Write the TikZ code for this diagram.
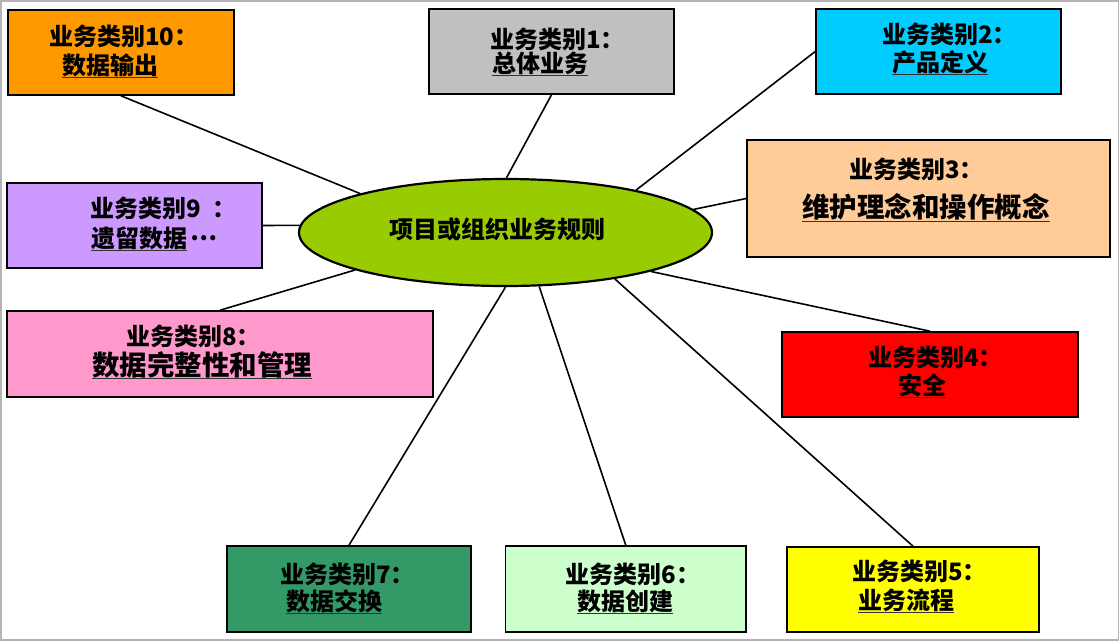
\documentclass[tikz,border=0pt]{standalone}
\usepackage{fontspec}
\usetikzlibrary{shapes.geometric}
\setmainfont{Noto Sans CJK SC}
\definecolor{cOrange}{HTML}{FF9900}
\definecolor{cGray}{HTML}{C0C0C0}
\definecolor{cCyan}{HTML}{00CCFF}
\definecolor{cPeach}{HTML}{FFCC99}
\definecolor{cLav}{HTML}{CC99FF}
\definecolor{cPink}{HTML}{FF99CC}
\definecolor{cRed}{HTML}{FF0000}
\definecolor{cDkGreen}{HTML}{339966}
\definecolor{cLtGreen}{HTML}{CCFFCC}
\definecolor{cYellow}{HTML}{FFFF00}
\definecolor{cLime}{HTML}{99CC00}
\definecolor{cFrame}{HTML}{B4B4B4}
\newcommand\myul[1]{\setbox0\hbox{#1}\rlap{\color{black!80}\rule[-4.4pt]{\wd0}{1.4pt}}\box0}
\begin{document}
\begin{tikzpicture}[x=1pt,y=-1pt,
  box/.style={draw=black, line width=1.6pt, rectangle, inner sep=0pt},
  lab/.style={anchor=base west, inner sep=0pt, font=\fontsize{24}{28}\selectfont\bfseries},
  biglab/.style={anchor=base west, inner sep=0pt, font=\fontsize{27.5}{32}\selectfont\bfseries},
  link/.style={draw=black, line width=1.6pt}]
\useasboundingbox (0,0) rectangle (1120,641);
\draw[cFrame, line width=1.5pt] (0.75,0.75) rectangle (1118.5,639.8);

% central ellipse
\node[ellipse, draw=black, line width=2.2pt, fill=cLime, minimum width=413pt, minimum height=107pt, inner sep=0pt] (ell) at (505.5,232.5) {};
\node[lab] (ctext) at (389,238) {项目或组织业务规则};

% boxes
\node[box, fill=cOrange, minimum width=226pt, minimum height=85pt] (b10) at (121,52.5) {};
\node[box, fill=cGray, minimum width=245pt, minimum height=85pt] (b1) at (551.5,51.5) {};
\node[box, fill=cCyan, minimum width=245pt, minimum height=85pt] (b2) at (938.5,51.5) {};
\node[box, fill=cPeach, minimum width=363pt, minimum height=117pt] (b3) at (928.5,198.5) {};
\node[box, fill=cLav, minimum width=255pt, minimum height=85pt] (b9) at (134.5,225.5) {};
\node[box, fill=cPink, minimum width=426pt, minimum height=86pt] (b8) at (220,354) {};
\node[box, fill=cRed, minimum width=296pt, minimum height=85pt] (b4) at (930,374.5) {};
\node[box, fill=cYellow, minimum width=251.5pt, minimum height=85pt] (b5) at (913,589.5) {};
\node[box, fill=cLtGreen, minimum width=240.5pt, minimum height=86pt] (b6) at (625.75,589) {};
\node[box, fill=cDkGreen, minimum width=244pt, minimum height=86pt] (b7) at (349,589) {};

% labels
\node[lab] (t10a) at (49,45.5) {业务类别10：};
\node[lab] (t10b) at (62,74) {\myul{数据输出}};
\node[lab] (t1a) at (490,48) {业务类别1：};
\node[lab] (t1b) at (492,72) {\myul{总体业务}};
\node[lab] (t2a) at (882,43) {业务类别2：};
\node[lab] (t2b) at (892,71) {\myul{产品定义}};
\node[lab] (t3a) at (849,178.5) {业务类别3：};
\node[biglab] (t3b) at (802,217.5) {\myul{维护理念和操作概念}};
\node[lab] (t9a) at (90,217) {业务类别9\hspace{12pt}：};
\node[lab] (t9b) at (91,247) {\myul{遗留数据}\hspace{3pt}\raisebox{7pt}{…}};
\node[lab] (t8a) at (126,345.5) {业务类别8：};
\node[biglab] (t8b) at (92,375) {\myul{数据完整性和管理}};
\node[lab] (t4a) at (868,366) {业务类别4：};
\node[lab] (t4b) at (898,394) {\myul{安全}};
\node[lab] (t5a) at (852,580) {业务类别5：};
\node[lab] (t5b) at (858,609) {\myul{业务流程}};
\node[lab] (t6a) at (565.5,583) {业务类别6：};
\node[lab] (t6b) at (577,610) {\myul{数据创建}};
\node[lab] (t7a) at (280,583) {业务类别7：};
\node[lab] (t7b) at (286,610) {\myul{数据交换}};

% connectors
\draw[link] (b10.south) -- (ell.165);
\draw[link] (b1.south) -- (ell.89.5);
\draw[link] (b2.west) -- (ell.18.4);
\draw[link] (b3.west) -- (ell.7.5);
\draw[link] (b9.east) -- (ell.178.2);
\draw[link] (b8.north) -- (ell.194.5);
\draw[link] (b4.north) -- (ell.345.4);
\draw[link] (b5.north) -- (ell.337.4);
\draw[link] (b6.north) -- (ell.302.8);
\draw[link] (b7.north) -- (ell.270.5);
\end{tikzpicture}
\end{document}
